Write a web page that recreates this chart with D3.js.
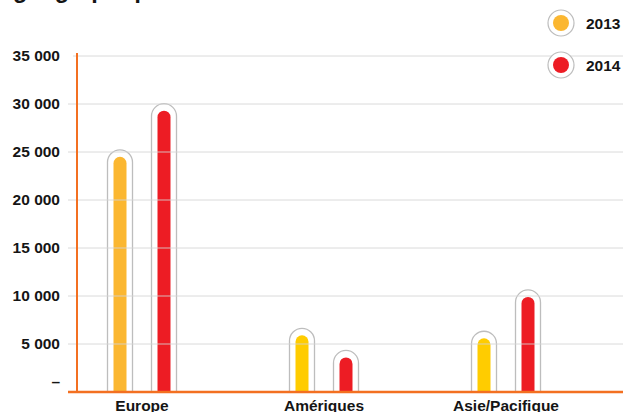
<!DOCTYPE html>
<html lang="fr">
<head>
<meta charset="utf-8">
<script src="https://cdn.jsdelivr.net/npm/d3@7"></script>
<style>
  html, body { margin: 0; padding: 0; background: #fff; }
  svg { display: block; font-family: "Liberation Sans", Arial, Helvetica, sans-serif; }
</style>
</head>
<body>
<svg id="chart" width="623" height="412"></svg>
<script>
// Chiffre d'affaires par zone géographique
const categories = ["Europe", "Amériques", "Asie/Pacifique"];
const years = ["2013", "2014"];
const values2013 = [24500, 5900, 5600];
const values2014 = [29300, 3600, 9900];
const yTicks = [0, 5000, 10000, 15000, 20000, 25000, 30000, 35000];

// styling
const orange = "#F37021";
const gridColour = "#d4d4d4";
const capsuleStroke = "#bdbdbd";
const textColour = "#151515";
const legendColours = { "2013": "#FBB731", "2014": "#ED1C24" };
const barColours = {
  "2013": ["#FBB731", "#FFCC00", "#FFCC00"],
  "2014": ["#ED1C24", "#ED1C24", "#ED1C24"]
};

const series = { "2013": values2013, "2014": values2014 };
const rows = [];
categories.forEach((c, i) => years.forEach(yr => rows.push({ cat: c, idx: i, year: yr, value: series[yr][i] })));

const svg = d3.select("#chart");
const W = 623;

const y = d3.scaleLinear().domain([0, 35000]).range([392, 56]);
const x0 = d3.scaleBand().domain(categories).range([51, 597]).padding(0);
const x1 = d3.scaleBand().domain(years).range([-44, 44]).padding(0);

const fmtLocale = d3.formatLocale({ decimal: ",", thousands: " ", grouping: [3], currency: ["", " €"] });
const fmt = fmtLocale.format(",d");

// title (last line of the heading, sitting above the frame)
svg.append("text")
  .attr("x", 13).attr("y", -2)
  .attr("font-size", 23.5).attr("font-weight", "bold").attr("fill", textColour)
  .text("géographique");

// bars: white capsule outline around a rounded coloured bar
const base = y(0);
const capR = 12.5, barR = 6.5, capGap = 7;
const bars = svg.append("g");
rows.forEach(d => {
  const cx = x0(d.cat) + x0.bandwidth() / 2 + x1(d.year) + x1.bandwidth() / 2;
  const top = y(d.value);
  const ctop = top - capGap;
  bars.append("path")
    .attr("d", `M${cx - capR},${base} L${cx - capR},${ctop + capR} A${capR},${capR} 0 0 1 ${cx + capR},${ctop + capR} L${cx + capR},${base}`)
    .attr("fill", "#fff").attr("stroke", capsuleStroke).attr("stroke-width", 1.3);
  bars.append("path")
    .attr("d", `M${cx - barR},${base} L${cx - barR},${top + barR} A${barR},${barR} 0 0 1 ${cx + barR},${top + barR} L${cx + barR},${base} Z`)
    .attr("fill", barColours[d.year][d.idx]);
});

// gridlines (the top one starts at the axis)
svg.append("g").selectAll("line")
  .data(yTicks.filter(t => t > 0))
  .join("line")
  .attr("x1", d => d === 35000 ? 73 : 68).attr("x2", W)
  .attr("y1", d => y(d)).attr("y2", d => y(d))
  .attr("stroke", gridColour).attr("stroke-opacity", 0.85).attr("stroke-width", 1);

// y axis labels
const yAxis = d3.axisLeft(y).tickValues(yTicks).tickSize(0).tickPadding(0)
  .tickFormat(d => d === 0 ? "–" : fmt(d));
const gy = svg.append("g").attr("transform", "translate(60,0)").call(yAxis);
gy.select(".domain").remove();
gy.selectAll("text")
  .attr("font-family", "Liberation Sans, Arial, sans-serif")
  .attr("font-size", 15.5).attr("font-weight", "bold").attr("fill", textColour)
  .attr("dy", d => d === 0 ? "-0.35em" : "0.3em");

// orange axes
svg.append("line").attr("x1", 77).attr("x2", 77).attr("y1", 53).attr("y2", base)
  .attr("stroke", orange).attr("stroke-width", 2);
svg.append("line").attr("x1", 68).attr("x2", W).attr("y1", base).attr("y2", base)
  .attr("stroke", orange).attr("stroke-width", 2.5);

// category labels
const xAxis = d3.axisBottom(x0).tickSize(0).tickPadding(0);
const gx = svg.append("g").attr("transform", `translate(0,${base})`).call(xAxis);
gx.select(".domain").remove();
gx.selectAll("text")
  .attr("font-family", "Liberation Sans, Arial, sans-serif")
  .attr("font-size", 15.5).attr("font-weight", "bold").attr("fill", textColour)
  .attr("dy", "19px");

// legend
const legend = svg.append("g");
const legendY = { "2013": 23, "2014": 65 };
years.forEach(yr => {
  const g = legend.append("g").attr("transform", `translate(561,${legendY[yr]})`);
  g.append("circle").attr("r", 13).attr("fill", "#fff").attr("stroke", capsuleStroke).attr("stroke-width", 1.2);
  g.append("circle").attr("r", 8).attr("fill", legendColours[yr]);
  g.append("text").attr("x", 25).attr("dy", "0.36em")
    .attr("font-size", 15.5).attr("font-weight", "bold").attr("fill", textColour)
    .text(yr);
});
</script>
</body>
</html>
